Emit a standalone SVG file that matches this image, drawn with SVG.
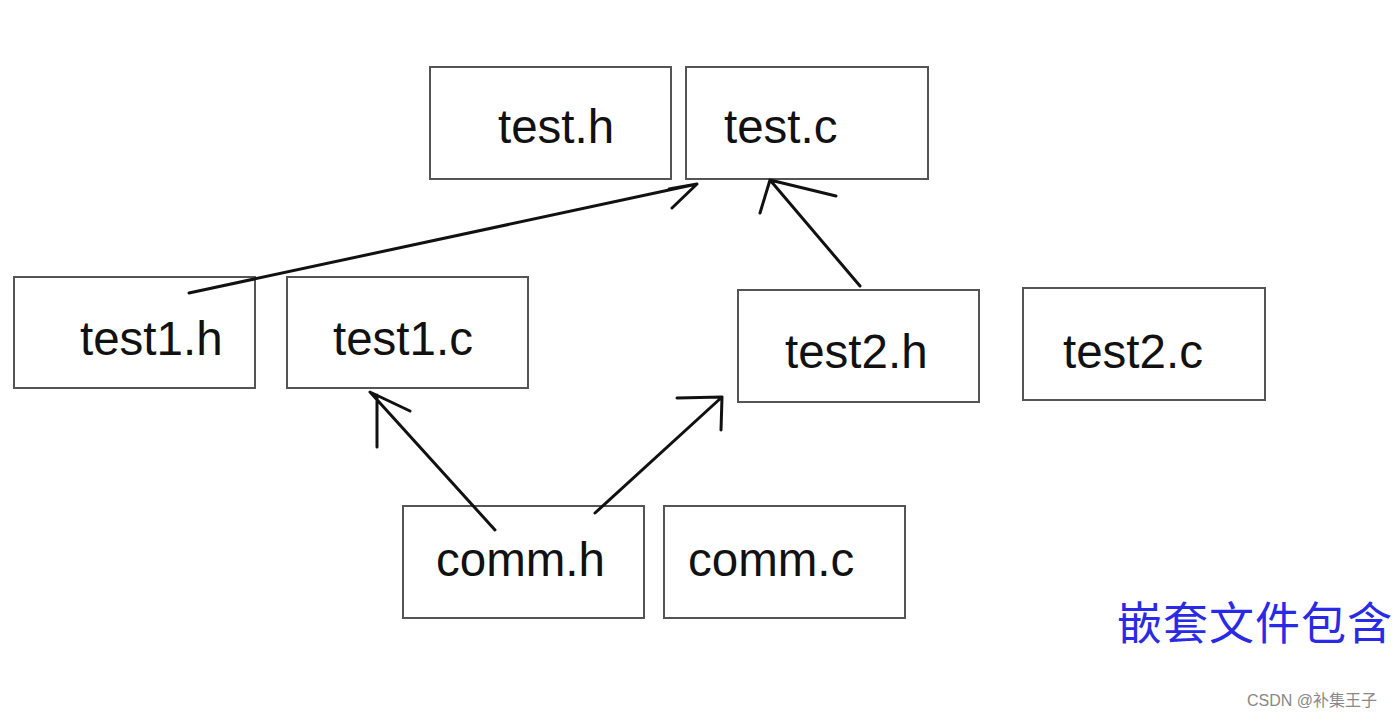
<svg xmlns="http://www.w3.org/2000/svg" width="1400" height="719" viewBox="0 0 1400 719">
<style>
.box{fill:#fff;stroke:#555;stroke-width:2}
.lbl{font-family:"Liberation Sans",Arial,sans-serif;font-size:47.5px;fill:#111}
.ink{fill:none;stroke:#111;stroke-width:3;stroke-linecap:round;stroke-linejoin:round}
.cn{font-family:"Noto Sans CJK SC",sans-serif;font-size:45px;letter-spacing:1px;fill:#2a2ae6}
.wm{font-family:"Liberation Sans","Noto Sans CJK SC",sans-serif;font-size:16px;fill:#888}
</style>
<rect width="1400" height="719" fill="#fff"/>
<g id="test_h"><rect class="box" x="430" y="67" width="241" height="112"/><text class="lbl" x="498" y="143">test.h</text></g>
<g id="test_c"><rect class="box" x="686" y="67" width="242" height="112"/><text class="lbl" x="724" y="143">test.c</text></g>
<g id="test1_h"><rect class="box" x="14" y="277" width="241" height="111"/><text class="lbl" x="80" y="355">test1.h</text></g>
<g id="test1_c"><rect class="box" x="287" y="277" width="241" height="111"/><text class="lbl" x="333" y="355">test1.c</text></g>
<g id="test2_h"><rect class="box" x="738" y="290" width="241" height="112"/><text class="lbl" x="785" y="368">test2.h</text></g>
<g id="test2_c"><rect class="box" x="1023" y="288" width="242" height="112"/><text class="lbl" x="1063" y="368">test2.c</text></g>
<g id="comm_h"><rect class="box" x="403" y="506" width="241" height="112"/><text class="lbl" x="436" y="576">comm.h</text></g>
<g id="comm_c"><rect class="box" x="664" y="506" width="241" height="112"/><text class="lbl" x="688" y="576">comm.c</text></g>
<g id="connectors">
<path class="ink" d="M189 293 L697 184 M669 189 L697 184 L672 208"/>
<path class="ink" d="M860 286 L770 180 M760 213 L770 180 L836 196"/>
<path class="ink" d="M495 530 L370 392 M377 447 L377 395 M372 393 L410 411"/>
<path class="ink" d="M595 513 L722 397 M677 398 L722 397 L721 430"/>
</g>
<text class="cn" x="1117" y="640">嵌套文件包含</text>
<text class="wm" x="1247" y="706">CSDN @补集王子</text>
</svg>
